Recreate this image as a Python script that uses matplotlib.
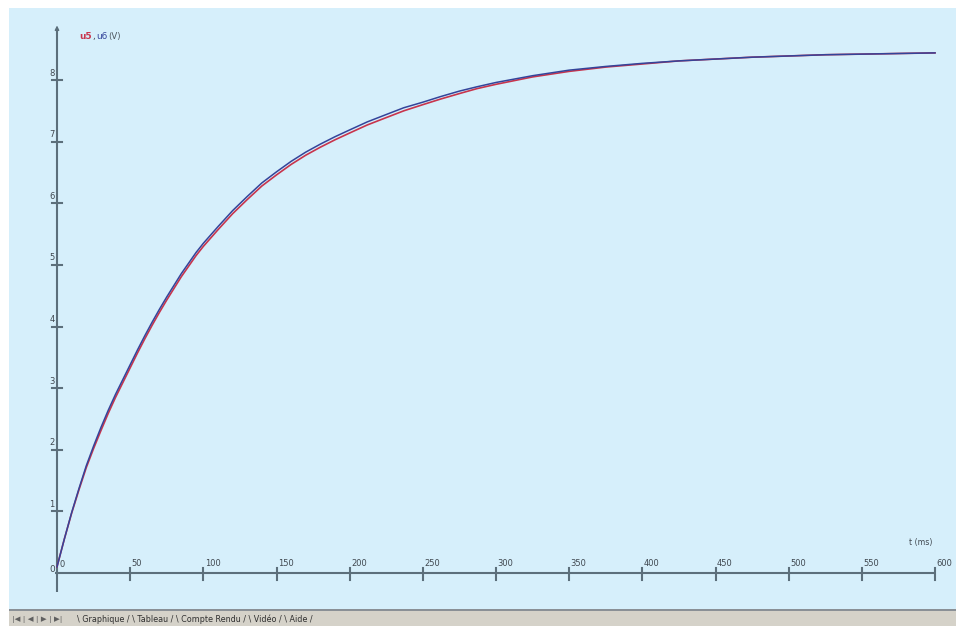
import matplotlib
matplotlib.use("Agg")
import matplotlib.pyplot as plt
from matplotlib.patches import Rectangle

# ---- data ----
t_ms = [0, 5, 10, 15, 20, 25, 30, 35, 40, 45, 50, 55, 60, 65, 70, 75, 80, 85,
        90, 95, 100, 110, 120, 130, 140, 150, 160, 170, 180, 190, 200, 212,
        225, 237, 250, 262, 275, 287, 300, 325, 350, 375, 400, 425, 450, 475,
        500, 525, 550, 575, 600]
u6 = [0.10, 0.55, 0.98, 1.37, 1.74, 2.06, 2.36, 2.64, 2.90, 3.14, 3.38, 3.62,
      3.85, 4.07, 4.28, 4.48, 4.67, 4.86, 5.03, 5.20, 5.35, 5.62, 5.88, 6.11,
      6.33, 6.51, 6.68, 6.83, 6.96, 7.08, 7.19, 7.32, 7.44, 7.55, 7.64, 7.73,
      7.82, 7.89, 7.96, 8.07, 8.16, 8.22, 8.27, 8.31, 8.34, 8.37, 8.39, 8.41,
      8.42, 8.43, 8.44]
u5 = [0.10, 0.55, 0.97, 1.35, 1.71, 2.02, 2.31, 2.59, 2.85, 3.09, 3.33, 3.57,
      3.80, 4.02, 4.23, 4.43, 4.62, 4.81, 4.98, 5.15, 5.30, 5.57, 5.83, 6.06,
      6.28, 6.46, 6.63, 6.78, 6.91, 7.03, 7.14, 7.27, 7.39, 7.50, 7.60, 7.69,
      7.78, 7.86, 7.93, 8.05, 8.14, 8.21, 8.26, 8.31, 8.34, 8.37, 8.39, 8.41,
      8.42, 8.43, 8.44]
x_ticks = [50, 100, 150, 200, 250, 300, 350, 400, 450, 500, 550, 600]
y_ticks = [1, 2, 3, 4, 5, 6, 7, 8]
tabs = ["Graphique", "Tableau", "Compte Rendu", "Vidéo", "Aide"]

W, H = 965, 626
BG = "#d6effb"
AX = "#5c6f7b"
BLUE = "#34449a"
RED = "#c8344c"
TXT = "#404850"

fig = plt.figure(figsize=(W / 100, H / 100), dpi=100)
fig.patch.set_facecolor("white")

# blue panel
fig.add_artist(Rectangle((9 / W, 16 / H), 947 / W, 602 / H,
                         transform=fig.transFigure, facecolor=BG,
                         edgecolor="none", zorder=0))
# tab bar
fig.add_artist(Rectangle((9 / W, 0), 947 / W, 15 / H,
                         transform=fig.transFigure, facecolor="#d5d2c9",
                         edgecolor="none", zorder=0))
fig.add_artist(Rectangle((9 / W, 15 / H), 947 / W, 1.6 / H,
                         transform=fig.transFigure, facecolor="#8a9096",
                         edgecolor="none", zorder=1))

# axes mapped so that x=0 -> px 57, x=600 -> px 935 ; y=0 -> px 573, y=8 -> px 80
ax = fig.add_axes([9 / W, 16 / H, 947 / W, 602 / H])
ax.set_facecolor("none")
pxx = 878 / 600.0
pxy = 493 / 8.0
ax.set_xlim((9 - 57) / pxx, (956 - 57) / pxx)
ax.set_ylim(-(610 - 573) / pxy, (573 - 8) / pxy)
for s in ax.spines.values():
    s.set_visible(False)
ax.set_xticks([])
ax.set_yticks([])

# axes lines
ax.plot([-1.5, 600], [0, 0], color=AX, lw=1.5, zorder=2, solid_capstyle="butt")
ax.plot([0, 0], [-0.31, 8.85], color=AX, lw=1.5, zorder=2, solid_capstyle="butt")
ax.annotate("", xy=(0, 8.93), xytext=(0, 8.7),
            arrowprops=dict(arrowstyle="-|>", color=AX, lw=1.0,
                            mutation_scale=6), zorder=3)

for xt in x_ticks:
    ax.plot([xt, xt], [-0.11, 0.08], color=AX, lw=1.5, zorder=2)
    ax.text(xt + 1, 0.08, str(xt), fontsize=6.0, color=TXT,
            ha="left", va="bottom", zorder=3)
ax.text(1.5, 0.06, "0", fontsize=6.0, color=TXT, ha="left", va="bottom")
ax.text(-1.5, -0.02, "0", fontsize=6.4, color=TXT, ha="right", va="bottom")
for yt in y_ticks:
    ax.plot([-3.4, 3.4], [yt, yt], color=AX, lw=1.5, zorder=2)
    ax.text(-1.5, yt + 0.04, str(yt), fontsize=6.0, color=TXT,
            ha="right", va="bottom", zorder=3)

ax.text(590, 0.42, "t (ms)", fontsize=5.6, color=TXT, ha="center",
        va="bottom")

# curves
ax.plot(t_ms, u5, color=RED, lw=1.2, zorder=4)
ax.plot(t_ms, u6, color=BLUE, lw=1.1, zorder=5)

# legend-like label
ly = 8.71
ax.text(15.5, ly, "u5", fontsize=6.4, color=RED, fontweight="bold",
        ha="left", va="center")
ax.text(24.3, ly, ",", fontsize=6.4, color=TXT, ha="left", va="center")
ax.text(27, ly, "u6", fontsize=6.4, color=BLUE, ha="left", va="center")
ax.text(35, ly, "(V)", fontsize=6.2, color="#505860", ha="left", va="center")

# tab bar text
fig.text(12 / W, 6.5 / H, "|◀ | ◀ | ▶ | ▶|", fontsize=5.4, color="#606060",
         ha="left", va="center")
tab_str = "\\ " + " / \\ ".join(tabs) + " /"
fig.text(77 / W, 6.5 / H, tab_str, fontsize=5.8, color="#303030",
         ha="left", va="center")

fig.savefig("out.png", dpi=100, facecolor="white")
